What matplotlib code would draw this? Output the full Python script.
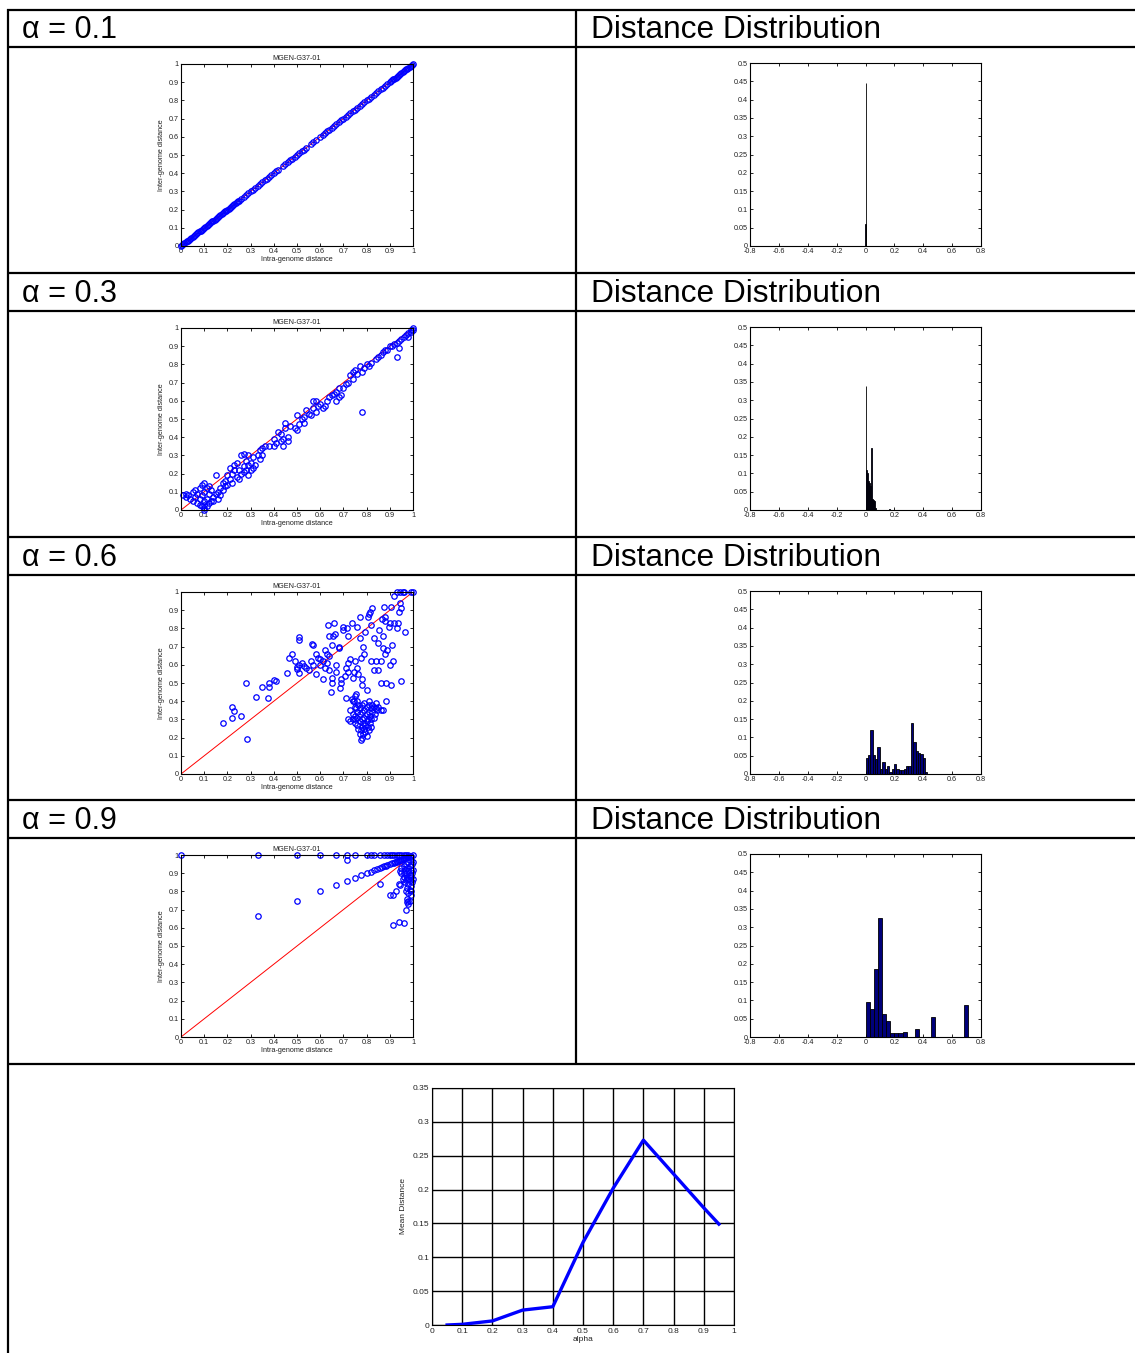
import matplotlib
matplotlib.use('Agg')
import matplotlib.pyplot as plt

W, H = 1135, 1353
plt.rcParams['font.family'] = ['Liberation Sans', 'DejaVu Sans']

# ---------------- text ----------------
row_labels = ['α = 0.1', 'α = 0.3', 'α = 0.6', 'α = 0.9']
dist_label = 'Distance Distribution'
scatter_title = 'MGEN-G37-01'
scatter_xlabel = 'Intra-genome distance'
scatter_ylabel = 'Inter-genome distance'
line_xlabel = 'alpha'
line_ylabel = 'Mean Distance'

# ---------------- tick values / labels ----------------
sc_ticks = [0, 0.1, 0.2, 0.3, 0.4, 0.5, 0.6, 0.7, 0.8, 0.9, 1.0]
sc_ticklabels = ['0', '0.1', '0.2', '0.3', '0.4', '0.5', '0.6', '0.7', '0.8', '0.9', '1']
hist_xticks = [-0.8, -0.6, -0.4, -0.2, 0, 0.2, 0.4, 0.6, 0.8]
hist_xticklabels = ['-0.8', '-0.6', '-0.4', '-0.2', '0', '0.2', '0.4', '0.6', '0.8']
hist_yticks = [0, 0.05, 0.1, 0.15, 0.2, 0.25, 0.3, 0.35, 0.4, 0.45, 0.5]
hist_yticklabels = ['0', '0.05', '0.1', '0.15', '0.2', '0.25', '0.3', '0.35', '0.4', '0.45', '0.5']
line_xticks = [0, 0.1, 0.2, 0.3, 0.4, 0.5, 0.6, 0.7, 0.8, 0.9, 1.0]
line_xticklabels = ['0', '0.1', '0.2', '0.3', '0.4', '0.5', '0.6', '0.7', '0.8', '0.9', '1']
line_yticks = [0, 0.05, 0.1, 0.15, 0.2, 0.25, 0.3, 0.35]
line_yticklabels = ['0', '0.05', '0.1', '0.15', '0.2', '0.25', '0.3', '0.35']

# ---------------- scatter data ----------------
intra_a01 = [0, 0.005, 0.01, 0.015, 0.02, 0.025, 0.03, 0.035, 0.04, 0.045, 0.05, 0.055, 0.06, 0.065,
             0.07, 0.075, 0.08, 0.085, 0.09, 0.095, 0.1, 0.105, 0.11, 0.115, 0.12, 0.125, 0.13, 0.135,
             0.14, 0.145, 0.15, 0.155, 0.16, 0.165, 0.17, 0.175, 0.18, 0.185, 0.19, 0.195, 0.2, 0.205,
             0.21, 0.215, 0.22, 0.225, 0.23, 0.235, 0.24, 0.245, 0.25, 0.26, 0.27, 0.28, 0.29, 0.3,
             0.31, 0.32, 0.33, 0.34, 0.35, 0.36, 0.37, 0.38, 0.39, 0.4, 0.41, 0.42, 0.44, 0.45, 0.46,
             0.47, 0.48, 0.49, 0.5, 0.51, 0.52, 0.53, 0.54, 0.56, 0.57, 0.58, 0.6, 0.61, 0.62, 0.63,
             0.64, 0.65, 0.66, 0.67, 0.68, 0.69, 0.7, 0.71, 0.72, 0.73, 0.74, 0.75, 0.76, 0.77, 0.78,
             0.79, 0.8, 0.81, 0.82, 0.83, 0.84, 0.85, 0.86, 0.87, 0.88, 0.89, 0.9, 0.905, 0.91, 0.915,
             0.92, 0.925, 0.93, 0.935, 0.94, 0.945, 0.95, 0.955, 0.96, 0.965, 0.97, 0.975, 0.98, 0.985,
             0.99, 0.995, 1.0]
inter_a01 = [0, 0.005, 0.01, 0.015, 0.02, 0.025, 0.03, 0.035, 0.04, 0.045, 0.05, 0.055, 0.06, 0.065,
             0.07, 0.075, 0.08, 0.085, 0.09, 0.095, 0.1, 0.105, 0.11, 0.115, 0.12, 0.125, 0.13, 0.135,
             0.14, 0.145, 0.15, 0.155, 0.16, 0.165, 0.17, 0.175, 0.18, 0.185, 0.19, 0.195, 0.2, 0.205,
             0.21, 0.215, 0.22, 0.225, 0.23, 0.235, 0.24, 0.245, 0.25, 0.26, 0.27, 0.28, 0.29, 0.3,
             0.31, 0.32, 0.33, 0.34, 0.35, 0.36, 0.37, 0.38, 0.39, 0.4, 0.41, 0.42, 0.44, 0.45, 0.46,
             0.47, 0.48, 0.49, 0.5, 0.51, 0.52, 0.53, 0.54, 0.56, 0.57, 0.58, 0.6, 0.61, 0.62, 0.63,
             0.64, 0.65, 0.66, 0.67, 0.68, 0.69, 0.7, 0.71, 0.72, 0.73, 0.74, 0.75, 0.76, 0.77, 0.78,
             0.79, 0.8, 0.81, 0.82, 0.83, 0.84, 0.85, 0.86, 0.87, 0.88, 0.89, 0.9, 0.905, 0.91, 0.915,
             0.92, 0.925, 0.93, 0.935, 0.94, 0.945, 0.95, 0.955, 0.96, 0.965, 0.97, 0.975, 0.98, 0.985,
             0.99, 0.995, 1.0]

intra_a03 = [0.01, 0.02, 0.02, 0.03, 0.04, 0.05, 0.05, 0.06, 0.06, 0.07, 0.07, 0.08, 0.08, 0.08, 0.09,
             0.09, 0.09, 0.1, 0.1, 0.1, 0.1, 0.1, 0.1, 0.11, 0.11, 0.11, 0.12, 0.12, 0.12, 0.13,
             0.13, 0.14, 0.14, 0.15, 0.15, 0.16, 0.16, 0.17, 0.17, 0.18, 0.18, 0.19, 0.19, 0.2, 0.2,
             0.21, 0.21, 0.22, 0.22, 0.23, 0.23, 0.24, 0.24, 0.25, 0.25, 0.26, 0.26, 0.27, 0.27, 0.27,
             0.28, 0.28, 0.29, 0.29, 0.29, 0.3, 0.3, 0.31, 0.31, 0.32, 0.33, 0.34, 0.34, 0.35, 0.35,
             0.36, 0.38, 0.4, 0.4, 0.41, 0.42, 0.43, 0.43, 0.44, 0.44, 0.45, 0.45, 0.46, 0.46, 0.47,
             0.49, 0.5, 0.5, 0.51, 0.52, 0.53, 0.53, 0.54, 0.55, 0.56, 0.57, 0.57, 0.58, 0.58, 0.59,
             0.6, 0.61, 0.62, 0.63, 0.64, 0.65, 0.66, 0.67, 0.67, 0.68, 0.68, 0.69, 0.7, 0.71, 0.72,
             0.73, 0.74, 0.74, 0.75, 0.76, 0.77, 0.78, 0.78, 0.79, 0.8, 0.81, 0.82, 0.84, 0.85, 0.86,
             0.87, 0.88, 0.89, 0.9, 0.91, 0.92, 0.93, 0.93, 0.94, 0.94, 0.95, 0.96, 0.97, 0.98, 0.98,
             0.99, 1.0, 1.0, 0.99]
inter_a03 = [0.08, 0.09, 0.07, 0.08, 0.06, 0.05, 0.1, 0.11, 0.07, 0.04, 0.09, 0.03, 0.06, 0.12, 0.02,
             0.14, 0.08, 0.0, 0.01, 0.03, 0.05, 0.1, 0.15, 0.02, 0.12, 0.06, 0.04, 0.09, 0.13, 0.05,
             0.11, 0.07, 0.05, 0.19, 0.09, 0.06, 0.1, 0.08, 0.12, 0.11, 0.15, 0.16, 0.13, 0.19, 0.14,
             0.17, 0.23, 0.2, 0.15, 0.25, 0.22, 0.18, 0.26, 0.17, 0.22, 0.3, 0.2, 0.31, 0.24, 0.21,
             0.22, 0.27, 0.3, 0.25, 0.19, 0.22, 0.26, 0.29, 0.23, 0.25, 0.3, 0.33, 0.28, 0.34, 0.3,
             0.35, 0.35, 0.35, 0.39, 0.37, 0.43, 0.38, 0.42, 0.35, 0.39, 0.45, 0.48, 0.4, 0.38, 0.46,
             0.45, 0.52, 0.44, 0.47, 0.5, 0.48, 0.51, 0.55, 0.53, 0.52, 0.6, 0.56, 0.6, 0.54, 0.57,
             0.58, 0.56, 0.57, 0.6, 0.62, 0.63, 0.64, 0.6, 0.65, 0.62, 0.67, 0.63, 0.67, 0.69, 0.7,
             0.74, 0.72, 0.76, 0.77, 0.75, 0.79, 0.76, 0.54, 0.78, 0.8, 0.79, 0.81, 0.83, 0.84, 0.85,
             0.87, 0.88, 0.88, 0.9, 0.9, 0.91, 0.92, 0.84, 0.89, 0.93, 0.94, 0.95, 0.96, 0.97, 0.95,
             0.98, 1.0, 0.99, 0.99]

intra_a06 = [0.18, 0.22, 0.22, 0.23, 0.26, 0.28, 0.285, 0.325, 0.35, 0.375, 0.38, 0.38, 0.4, 0.41,
             0.455, 0.465, 0.48, 0.49, 0.5, 0.5, 0.51, 0.51, 0.51, 0.52, 0.51, 0.53, 0.54, 0.55, 0.56,
             0.565, 0.57, 0.57, 0.58, 0.58, 0.59, 0.6, 0.6, 0.61, 0.61, 0.62, 0.62, 0.63, 0.63, 0.635,
             0.64, 0.64, 0.64, 0.645, 0.65, 0.65, 0.65, 0.655, 0.66, 0.665, 0.67, 0.67, 0.68, 0.68,
             0.685, 0.69, 0.69, 0.7, 0.7, 0.705, 0.71, 0.71, 0.715, 0.72, 0.72, 0.72, 0.73, 0.735,
             0.735, 0.74, 0.74, 0.745, 0.75, 0.75, 0.755, 0.76, 0.76, 0.765, 0.77, 0.77, 0.775, 0.78,
             0.78, 0.785, 0.79, 0.795, 0.8, 0.805, 0.81, 0.815, 0.82, 0.82, 0.825, 0.83, 0.83, 0.84,
             0.85, 0.85, 0.855, 0.86, 0.86, 0.865, 0.87, 0.87, 0.875, 0.88, 0.88, 0.88, 0.885, 0.885,
             0.89, 0.895, 0.9, 0.9, 0.905, 0.905, 0.91, 0.915, 0.92, 0.92, 0.93, 0.93, 0.935, 0.94,
             0.945, 0.95, 0.95, 0.955, 0.96, 0.965, 0.99, 1.0, 0.945,
             0.72, 0.73, 0.73, 0.74, 0.74, 0.75, 0.75, 0.75, 0.76, 0.76, 0.76, 0.76, 0.765, 0.77,
             0.77, 0.77, 0.77, 0.775, 0.775, 0.78, 0.78, 0.78, 0.78, 0.78, 0.785, 0.785, 0.79, 0.79,
             0.79, 0.79, 0.795, 0.795, 0.8, 0.8, 0.8, 0.8, 0.805, 0.805, 0.81, 0.81, 0.81, 0.815,
             0.815, 0.82, 0.82, 0.82, 0.825, 0.825, 0.83, 0.83, 0.835, 0.84, 0.84, 0.845, 0.85, 0.86,
             0.87, 0.745, 0.755, 0.765, 0.75, 0.81]
inter_a06 = [0.28, 0.31, 0.37, 0.345, 0.32, 0.5, 0.19, 0.425, 0.48, 0.415, 0.48, 0.5, 0.515, 0.51,
             0.555, 0.64, 0.66, 0.62, 0.575, 0.59, 0.735, 0.755, 0.6, 0.61, 0.555, 0.595, 0.58, 0.57, 0.62,
             0.715, 0.71, 0.6, 0.66, 0.55, 0.64, 0.63, 0.6, 0.62, 0.52, 0.58, 0.68, 0.66, 0.61, 0.82,
             0.76, 0.65, 0.57, 0.45, 0.5, 0.71, 0.53, 0.76, 0.83, 0.77, 0.56, 0.6, 0.69, 0.7,
             0.47, 0.52, 0.5, 0.79, 0.81, 0.54, 0.42, 0.58, 0.8, 0.76, 0.56, 0.61, 0.63, 0.83,
             0.41, 0.4, 0.53, 0.56, 0.62, 0.43, 0.44, 0.81, 0.58, 0.55, 0.75, 0.86, 0.64, 0.49,
             0.52, 0.7, 0.66, 0.78, 0.46, 0.86, 0.88, 0.89, 0.62, 0.82, 0.91, 0.57, 0.75, 0.62,
             0.57, 0.72, 0.79, 0.5, 0.62, 0.85, 0.69, 0.76, 0.92, 0.66, 0.84, 0.86, 0.4, 0.5,
             0.68, 0.81, 0.6, 0.83, 0.92, 0.49, 0.71, 0.62, 0.98, 0.83, 0.8, 1.0, 0.83, 0.89,
             0.94, 0.51, 0.91, 1.0, 1.0, 0.78, 1.0, 1.0, 1.0,
             0.3, 0.35, 0.29, 0.33, 0.3, 0.32, 0.28, 0.37, 0.27, 0.31, 0.34, 0.4, 0.25, 0.22,
             0.29, 0.33, 0.36, 0.185, 0.24, 0.2, 0.26, 0.3, 0.34, 0.38, 0.22, 0.28, 0.25, 0.31,
             0.35, 0.39, 0.23, 0.27, 0.29, 0.33, 0.21, 0.37, 0.26, 0.3, 0.24, 0.34, 0.38, 0.28,
             0.32, 0.3, 0.36, 0.26, 0.34, 0.38, 0.31, 0.37, 0.33, 0.36, 0.39, 0.35, 0.37, 0.35,
             0.35, 0.4, 0.36, 0.38, 0.3, 0.4]

intra_a09 = [0, 0.333, 0.5, 0.6, 0.667, 0.714, 0.75, 0.8, 0.818, 0.833, 0.857, 0.875, 0.889, 0.9,
             0.909, 0.92, 0.93, 0.94, 0.95, 0.96, 0.97, 0.98, 1.0, 0.714,
             0.333, 0.5, 0.6, 0.667, 0.714, 0.75, 0.778, 0.8, 0.818, 0.833, 0.846, 0.857, 0.867,
             0.875, 0.882, 0.889, 0.9, 0.909, 0.917, 0.923, 0.929, 0.933, 0.938, 0.944, 0.95, 0.955,
             0.96, 0.967, 0.97, 0.975, 0.98, 0.985, 0.99,
             0.857, 0.9, 0.915, 0.925, 0.94, 0.945, 0.915, 0.94, 0.96, 0.97, 0.975, 0.98,
             0.96, 0.96, 0.965, 0.965, 0.97, 0.97, 0.97, 0.97, 0.975, 0.975, 0.975, 0.975, 0.98, 0.98,
             0.98, 0.98, 0.98, 0.985, 0.985, 0.985, 0.985, 0.985, 0.99, 0.99, 0.99, 0.99, 0.99, 0.995,
             0.995, 0.995, 1.0, 1.0, 1.0, 0.95, 0.955, 0.96, 0.945, 0.95, 0.98, 0.99]
inter_a09 = [1.0, 1.0, 1.0, 1.0, 1.0, 1.0, 1.0, 1.0, 1.0, 1.0, 1.0, 1.0, 1.0, 1.0,
             1.0, 1.0, 1.0, 1.0, 1.0, 1.0, 1.0, 1.0, 1.0, 0.975,
             0.665, 0.75, 0.8, 0.833, 0.857, 0.875, 0.889, 0.9, 0.909, 0.917, 0.923, 0.929, 0.933,
             0.938, 0.941, 0.944, 0.95, 0.955, 0.958, 0.962, 0.964, 0.967, 0.969, 0.972, 0.975, 0.977,
             0.98, 0.983, 0.985, 0.988, 0.99, 0.992, 0.995,
             0.84, 0.78, 0.78, 0.8, 0.84, 0.835, 0.615, 0.63, 0.625, 0.7, 0.74, 0.73,
             0.88, 0.9, 0.85, 0.92, 0.8, 0.86, 0.9, 0.95, 0.76, 0.82, 0.88, 0.93, 0.79, 0.84,
             0.87, 0.91, 0.96, 0.75, 0.81, 0.86, 0.89, 0.94, 0.78, 0.83, 0.88, 0.92, 0.97, 0.85,
             0.9, 0.95, 0.87, 0.92, 0.96, 0.9, 0.87, 0.94, 0.91, 0.93, 0.75, 0.8]

scatter_x = [intra_a01, intra_a03, intra_a06, intra_a09]
scatter_y = [inter_a01, inter_a03, inter_a06, inter_a09]
diag_x = [0, 1]
diag_y = [0, 1]

# ---------------- histogram data (bin left edge, width, height) ----------------
hist1_left = [-0.004, 0.0]
hist1_width = 0.005
hist1_height = [0.06, 0.445]

hist2_left = [0.0, 0.0068, 0.0136, 0.0204, 0.0272, 0.034, 0.0408, 0.0476, 0.0544, 0.0612, 0.068, 0.163]
hist2_width = 0.0068
hist2_height = [0.34, 0.11, 0.10, 0.08, 0.075, 0.065, 0.17, 0.03, 0.028, 0.025, 0.005, 0.003]

hist3_left = [0.0, 0.0165, 0.033, 0.0495, 0.066, 0.0825, 0.099, 0.1155, 0.132, 0.1485, 0.165, 0.1815,
              0.198, 0.2145, 0.231, 0.2475, 0.264, 0.2805, 0.297, 0.3135, 0.33, 0.3465, 0.363,
              0.3795, 0.396, 0.4125]
hist3_width = 0.0165
hist3_height = [0.044, 0.052, 0.121, 0.052, 0.042, 0.073, 0.013, 0.033, 0.013, 0.023, 0.005, 0.015,
                0.026, 0.013, 0.011, 0.011, 0.014, 0.021, 0.023, 0.14, 0.088, 0.062, 0.058, 0.055,
                0.043, 0.005]

hist4_left = [0.0, 0.0285, 0.057, 0.0855, 0.114, 0.1425, 0.171, 0.1995, 0.228, 0.2565, 0.342, 0.456, 0.684]
hist4_width = 0.0285
hist4_height = [0.095, 0.077, 0.187, 0.325, 0.062, 0.043, 0.012, 0.012, 0.012, 0.013, 0.022, 0.055, 0.087]

hist_left = [hist1_left, hist2_left, hist3_left, hist4_left]
hist_width = [hist1_width, hist2_width, hist3_width, hist4_width]
hist_height = [hist1_height, hist2_height, hist3_height, hist4_height]

# ---------------- mean distance vs alpha ----------------
alpha_vals = [0.05, 0.1, 0.2, 0.3, 0.4, 0.5, 0.6, 0.7, 0.8, 0.9, 0.95]
mean_dist = [0.0, 0.001, 0.006, 0.022, 0.027, 0.122, 0.202, 0.273, 0.223, 0.173, 0.149]

# =====================================================================
fig = plt.figure(figsize=(W / 100, H / 100), dpi=100)
fig.patch.set_facecolor('white')

bg = fig.add_axes([0, 0, 1, 1])
bg.set_xlim(0, W)
bg.set_ylim(H, 0)
bg.axis('off')

def px_axes(x0, y0, x1, y1):
    return fig.add_axes([x0 / W, 1 - y1 / H, (x1 - x0) / W, (y1 - y0) / H])

# table lines
for yy in [10, 47, 273, 311, 537, 575, 800, 838, 1064]:
    bg.plot([7, W], [yy, yy], color='black', lw=1.6, solid_capstyle='butt')
bg.plot([8, 8], [9, H], color='black', lw=1.6, solid_capstyle='butt')
bg.plot([576, 576], [9, 1064], color='black', lw=1.6, solid_capstyle='butt')

row_off = [0, 264, 528, 791]
header_y = [30, 294, 558, 821]
for i in range(4):
    bg.text(22, header_y[i], row_labels[i], fontsize=22, va='center', ha='left', color='black')
    bg.text(591, header_y[i], dist_label, fontsize=22.8, va='center', ha='left', color='black')

small = 5.2
tick_color = '#222222'

def style(ax, fs=small, pad=1.5):
    ax.tick_params(direction='in', length=2.5, width=0.6, top=True, right=True,
                   labelsize=fs, pad=pad, colors='black', labelcolor=tick_color)
    for s in ax.spines.values():
        s.set_linewidth(0.8)
        s.set_color('black')

for i in range(4):
    off = row_off[i]
    ax = px_axes(181, 64 + off, 413, 246 + off)
    ax.plot(diag_x, diag_y, color='red', lw=0.7, zorder=1)
    ax.plot(scatter_x[i], scatter_y[i], 'o', mfc='none', mec='blue', ms=3.9, mew=0.9,
            zorder=2, clip_on=False)
    ax.set_xlim(0, 1)
    ax.set_ylim(0, 1)
    ax.set_xticks(sc_ticks)
    ax.set_xticklabels(sc_ticklabels)
    ax.set_yticks(sc_ticks)
    ax.set_yticklabels(sc_ticklabels)
    style(ax)
    ax.set_title(scatter_title, fontsize=small, color=tick_color, pad=3)
    ax.set_xlabel(scatter_xlabel, fontsize=small, color=tick_color, labelpad=1)
    ax.set_ylabel(scatter_ylabel, fontsize=small, color=tick_color, labelpad=3)

    hx = px_axes(750, 63 + off, 981, 246 + off)
    hx.bar(hist_left[i], hist_height[i], width=hist_width[i], align='edge',
           color='#00007a', edgecolor='black', linewidth=0.6)
    hx.set_xlim(-0.8, 0.8)
    hx.set_ylim(0, 0.5)
    hx.set_xticks(hist_xticks)
    hx.set_xticklabels(hist_xticklabels)
    hx.set_yticks(hist_yticks)
    hx.set_yticklabels(hist_yticklabels)
    style(hx)

# bottom line chart
lx = px_axes(432, 1088, 734, 1325)
lx.plot(alpha_vals, mean_dist, color='blue', lw=2.4, zorder=3)
lx.set_xlim(0, 1)
lx.set_ylim(0, 0.35)
lx.set_xticks(line_xticks)
lx.set_xticklabels(line_xticklabels)
lx.set_yticks(line_yticks)
lx.set_yticklabels(line_yticklabels)
lx.grid(True, color='black', lw=1.0)
lx.set_axisbelow(True)
style(lx, fs=6, pad=2)
lx.set_xlabel(line_xlabel, fontsize=6, color=tick_color, labelpad=1)
lx.set_ylabel(line_ylabel, fontsize=6, color=tick_color, labelpad=4)

fig.savefig('out.png', dpi=100)
